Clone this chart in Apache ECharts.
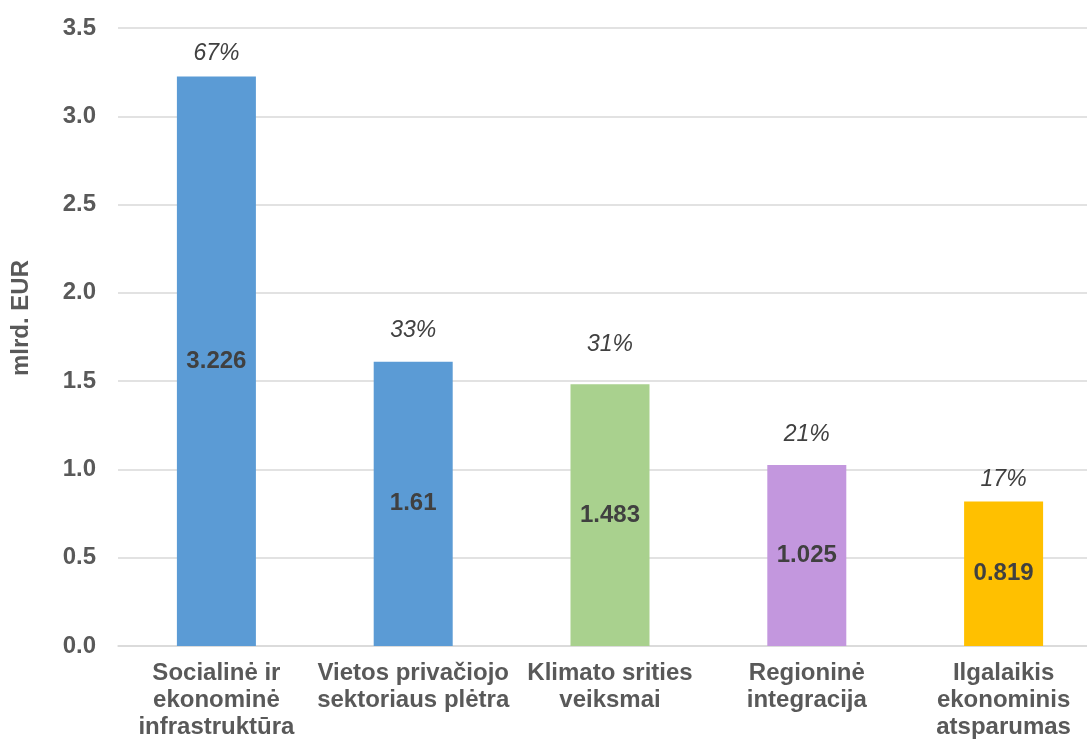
<!DOCTYPE html>
<html><head><meta charset="utf-8">
<script src="https://cdn.jsdelivr.net/npm/echarts@6/dist/echarts.min.js"></script>
<style>html,body{margin:0;padding:0;background:#fff}#c{width:1087px;height:740px}</style>
</head><body><div id="c"></div>
<script>
const categories = ["Socialinė ir\nekonominė\ninfrastruktūra", "Vietos privačiojo\nsektoriaus plėtra", "Klimato srities\nveiksmai", "Regioninė\nintegracija", "Ilgalaikis\nekonominis\natsparumas"];
const values = [3.226, 1.61, 1.483, 1.025, 0.819];
const valueLabels = ["3.226", "1.61", "1.483", "1.025", "0.819"];
const shares = ["67%", "33%", "31%", "21%", "17%"];
const barColors = ["#5B9BD5", "#5B9BD5", "#A9D18E", "#C397DE", "#FFC000"];
const yTicks = ["0.0", "0.5", "1.0", "1.5", "2.0", "2.5", "3.0", "3.5"];
// style: distance of each share label above its bar (manually placed in original)
const shareLabelGap = [11, 20, 28, 19, 10];

const FONT = 'Liberation Sans, Arial, sans-serif';
const chart = echarts.init(document.getElementById('c'));
chart.setOption({
  animation: false,
  grid: {left: 118, right: -15, top: 28, bottom: 94, containLabel: false, outerBoundsMode: 'none'},
  xAxis: {
    type: 'category', data: categories,
    axisLine: {lineStyle: {color: '#D9D9D9', width: 1.5}},
    axisTick: {show: false},
    axisLabel: {color: '#595959', fontSize: 24, fontWeight: 'bold', fontFamily: FONT, lineHeight: 27, margin: 14, interval: 0, hideOverlap: false}
  },
  yAxis: {
    type: 'value', min: 0, max: 3.5, interval: 0.5,
    name: 'mlrd. EUR', nameLocation: 'middle', nameGap: 85, nameRotate: 90,
    nameTextStyle: {color: '#595959', fontSize: 24, fontWeight: 'bold', fontFamily: FONT, padding: [0, 0, 0, 38]},
    axisLine: {show: false}, axisTick: {show: false},
    splitLine: {lineStyle: {color: '#D9D9D9', width: 1.5}},
    axisLabel: {color: '#595959', fontSize: 24, fontWeight: 'bold', fontFamily: FONT, margin: 22,
      formatter: (v) => yTicks[Math.round(v / 0.5)] }
  },
  series: [
    {
      type: 'bar', barWidth: 79,
      data: values.map((v, i) => ({value: v, itemStyle: {color: barColors[i]}})),
      label: {show: true, position: 'inside', color: '#404040', fontSize: 24, fontWeight: 'bold', fontFamily: FONT,
        formatter: (p) => valueLabels[p.dataIndex]}
    },
    {
      type: 'bar', barWidth: 79, barGap: '-100%',
      data: values.map((v, i) => ({value: v, label: {distance: shareLabelGap[i]}})),
      itemStyle: {color: 'rgba(0,0,0,0)'},
      label: {show: true, position: 'top', color: '#404040', fontSize: 23, fontStyle: 'italic', fontFamily: FONT,
        formatter: (p) => shares[p.dataIndex]},
      z: 3
    }
  ]
});
</script></body></html>
